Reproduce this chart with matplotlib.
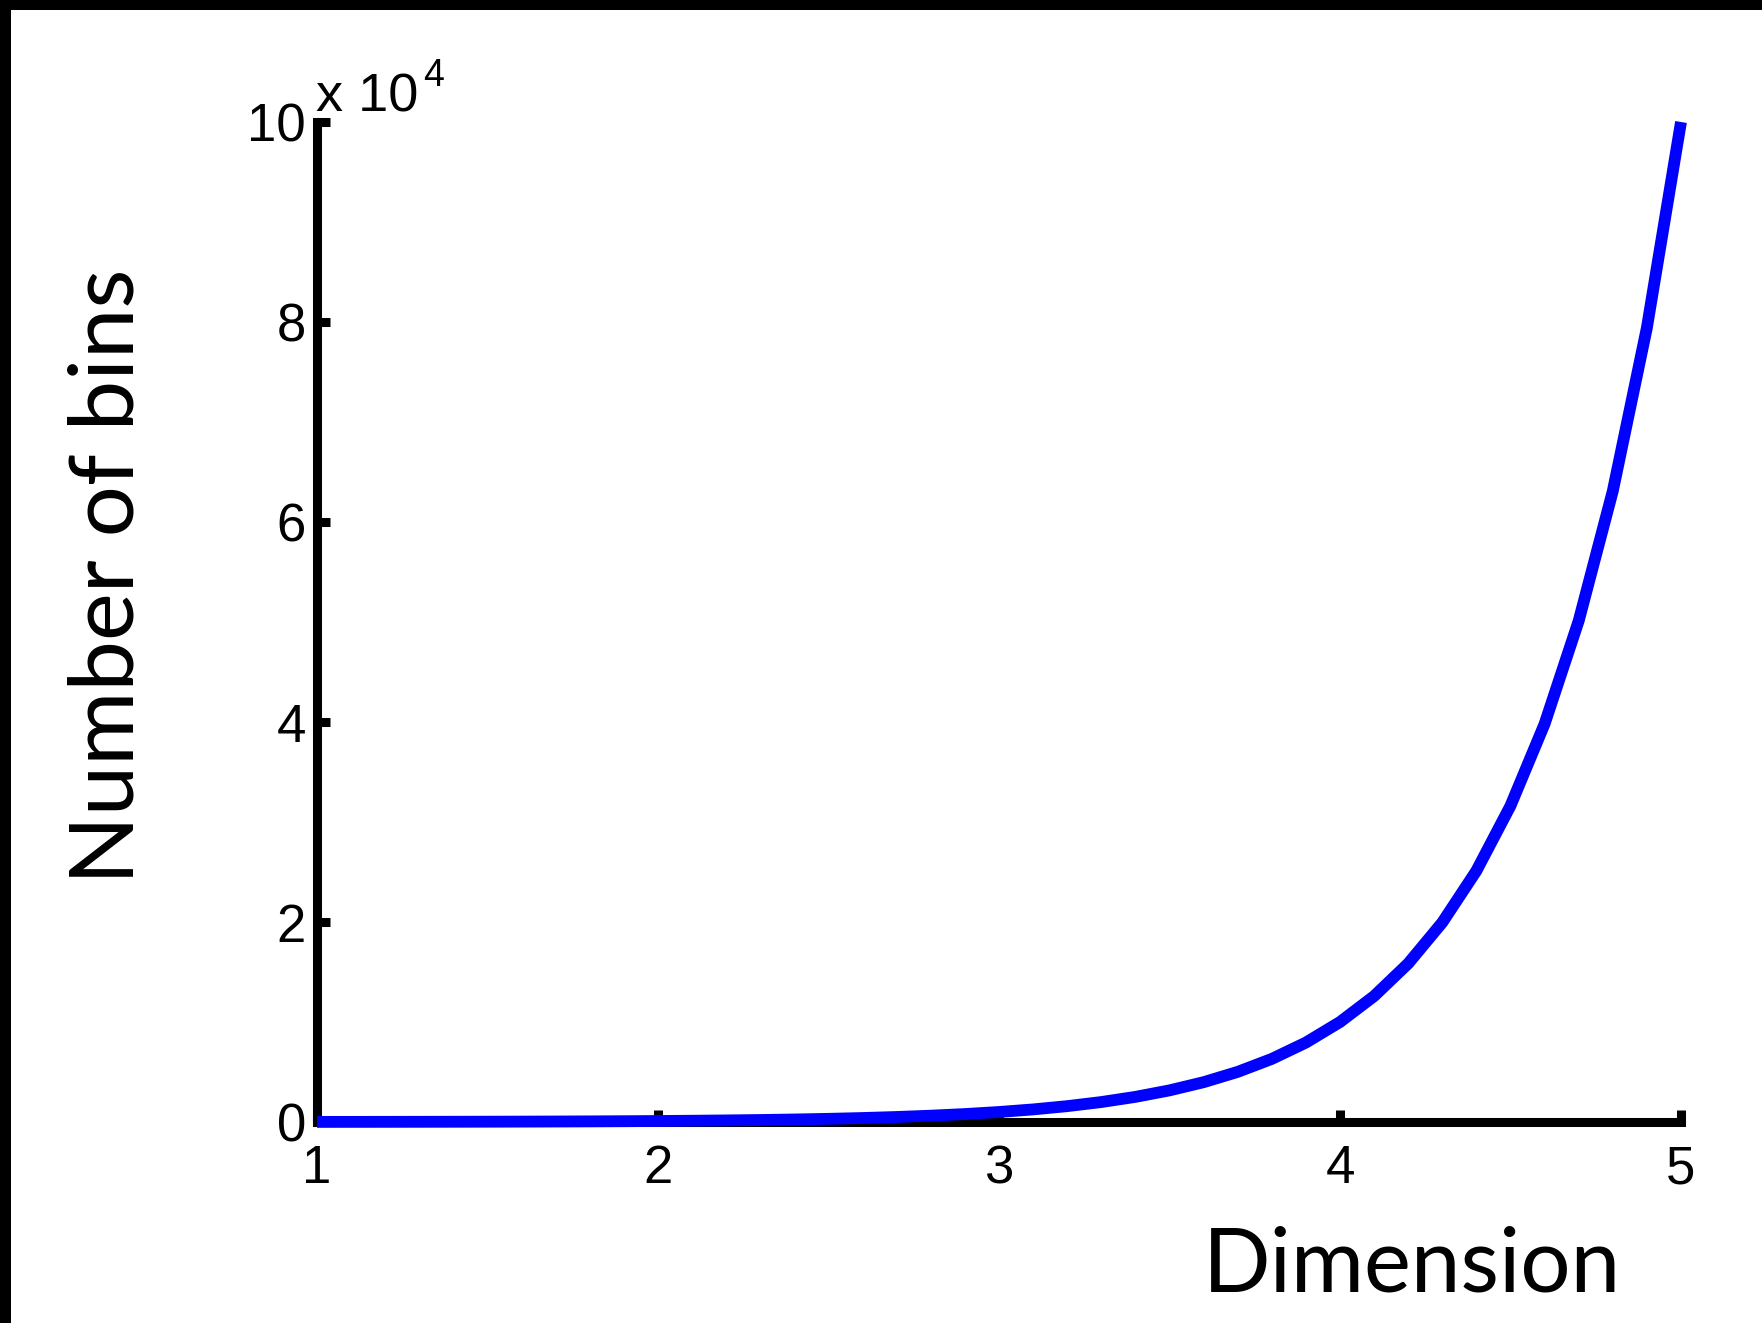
import matplotlib
matplotlib.use("Agg")
import matplotlib.pyplot as plt
from matplotlib.patches import Rectangle
from matplotlib.ticker import FuncFormatter

# ---- data ----
dimension = [1.0, 1.1, 1.2, 1.3, 1.4, 1.5, 1.6, 1.7, 1.8, 1.9,
             2.0, 2.1, 2.2, 2.3, 2.4, 2.5, 2.6, 2.7, 2.8, 2.9,
             3.0, 3.1, 3.2, 3.3, 3.4, 3.5, 3.6, 3.7, 3.8, 3.9,
             4.0, 4.1, 4.2, 4.3, 4.4, 4.5, 4.6, 4.7, 4.8, 4.9, 5.0]
number_of_bins = [10, 12.59, 15.85, 19.95, 25.12, 31.62, 39.81, 50.12, 63.10, 79.43,
                  100, 125.9, 158.5, 199.5, 251.2, 316.2, 398.1, 501.2, 631.0, 794.3,
                  1000, 1259, 1585, 1995, 2512, 3162, 3981, 5012, 6310, 7943,
                  10000, 12589, 15849, 19953, 25119, 31623, 39811, 50119, 63096, 79433, 100000]
x_ticks = [1, 2, 3, 4, 5]
y_ticks = [0, 20000, 40000, 60000, 80000, 100000]
y_scale_exp = 4
x_label = "Dimension"
y_label = "Number of bins"

W, H = 1762, 1323
fig = plt.figure(figsize=(W / 100, H / 100), dpi=100)
fig.patch.set_facecolor("white")

left, right = 317 / W, 1681 / W
bottom, top = 1 - 1122 / H, 1 - 122 / H
ax = fig.add_axes([left, bottom, right - left, top - bottom])

ax.plot(dimension, number_of_bins, color="#0000ff", lw=8.5,
        solid_capstyle="butt", solid_joinstyle="miter", clip_on=False, zorder=5)

ax.set_xlim(1, 5)
ax.set_ylim(0, 100000)
ax.set_xticks(x_ticks)
ax.set_yticks(y_ticks)
ax.yaxis.set_major_formatter(FuncFormatter(lambda v, p: f"{v / 10**y_scale_exp:g}"))

for s in ["top", "right"]:
    ax.spines[s].set_visible(False)
for s in ["left", "bottom"]:
    ax.spines[s].set_linewidth(6.5)
    ax.spines[s].set_color("black")
    ax.spines[s].set_capstyle("projecting")

tick_family = ["Liberation Sans", "DejaVu Sans"]
ax.tick_params(axis="both", direction="in", length=9, width=6.5, color="black")
ax.tick_params(axis="x", pad=16)
ax.tick_params(axis="y", pad=8)
for lab in ax.get_xticklabels() + ax.get_yticklabels():
    lab.set_fontfamily(tick_family)
    lab.set_fontsize(38)

# exponent label
fig.text(316 / W, 1 - 112 / H, "x 10", fontfamily=tick_family, fontsize=39,
         ha="left", va="baseline")
fig.text(423 / W, 1 - 86 / H, str(y_scale_exp), fontfamily=tick_family, fontsize=27,
         ha="left", va="baseline")

label_font = ["Lato", "DejaVu Sans"]
fig.text(1412 / W, 1 - 1292 / H, x_label, fontfamily=label_font, fontsize=64,
         ha="center", va="baseline")
fig.text(133 / W, 1 - 576 / H, y_label, fontfamily=label_font, fontsize=65,
         rotation=90, ha="center", va="baseline", rotation_mode="anchor")

# black frame edges at top and left
fig.patches.append(Rectangle((0, 1 - 10 / H), 1, 10 / H, transform=fig.transFigure,
                             facecolor="black", edgecolor="none", zorder=10))
fig.patches.append(Rectangle((0, 0), 11 / W, 1, transform=fig.transFigure,
                             facecolor="black", edgecolor="none", zorder=10))

fig.savefig("out.png", dpi=100)
